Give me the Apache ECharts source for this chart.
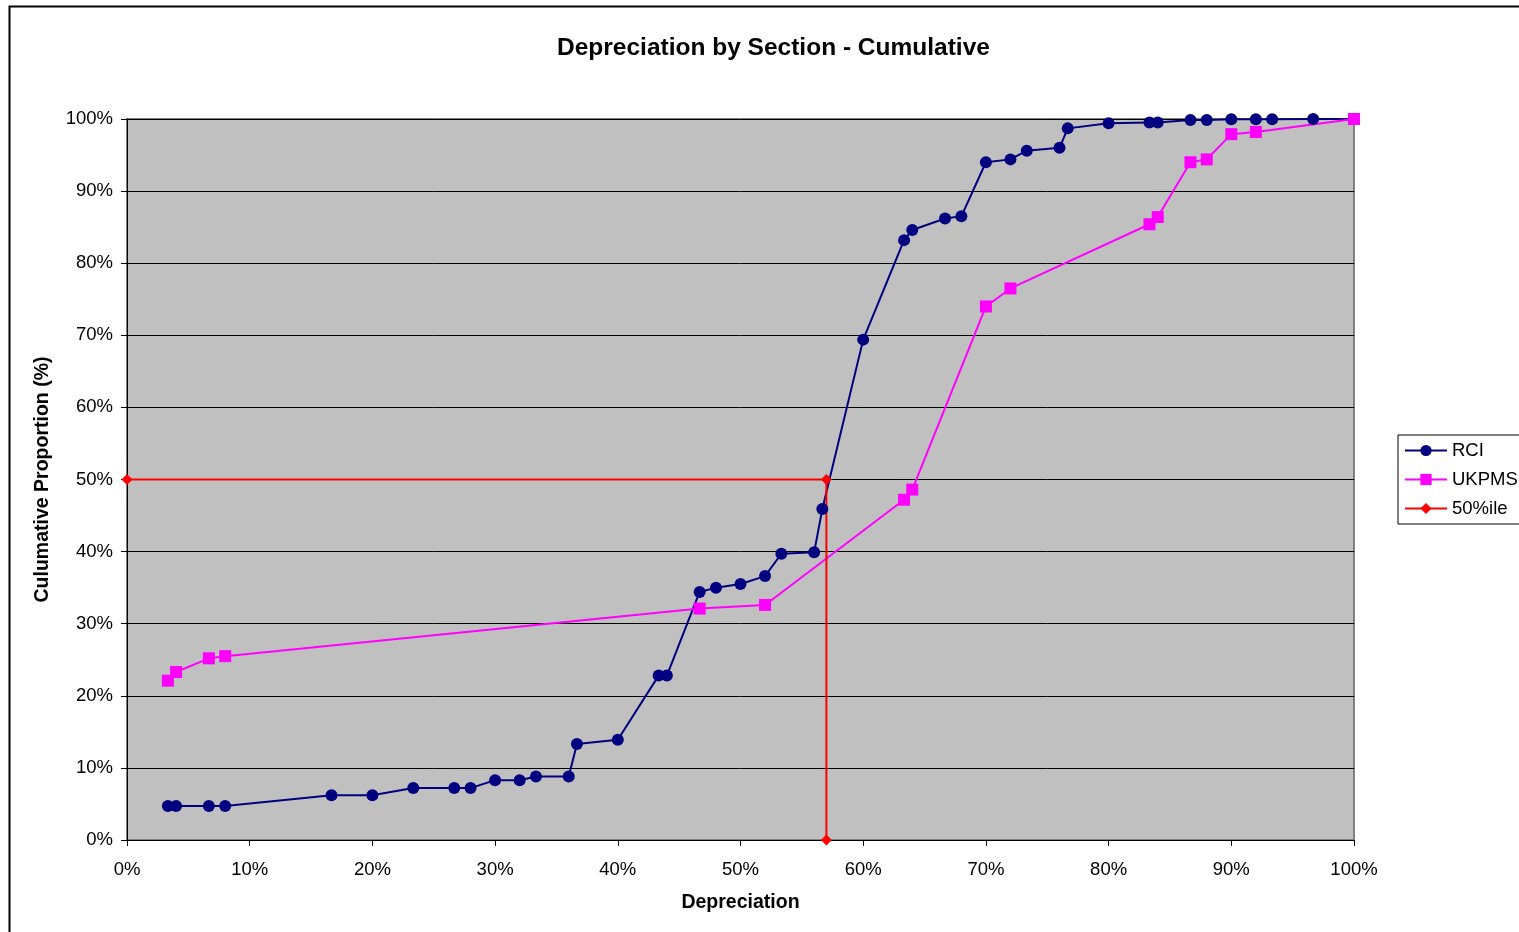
<!DOCTYPE html>
<html>
<head>
<meta charset="utf-8">
<title>Depreciation by Section - Cumulative</title>
<script src="https://cdn.jsdelivr.net/npm/echarts@6/dist/echarts.min.js"></script>
<style>
  html, body { margin: 0; padding: 0; background: #ffffff; overflow: hidden; }
  #chart { position: absolute; left: 0; top: 0; width: 1519px; height: 932px; }
</style>
</head>
<body>
<div id="chart"></div>
<script>
// Depreciation (%) for each section and the cumulative share of sections (%)
const rciDepreciation = [3.33, 4, 6.67, 8, 16.67, 20, 23.33, 26.67, 28, 30, 32, 33.33, 36, 36.67, 40,
  43.33, 44, 46.67, 48, 50, 52, 53.33, 56, 56.67, 60, 63.33, 64, 66.67, 68, 70, 72, 73.33, 76, 76.67,
  80, 83.33, 84, 86.67, 88, 90, 92, 93.33, 96.67, 100];
const rciCumulative = [4.7, 4.7, 4.7, 4.7, 6.2, 6.2, 7.2, 7.2, 7.2, 8.3, 8.3, 8.8, 8.8, 13.3, 13.9,
  22.8, 22.8, 34.4, 35.0, 35.5, 36.6, 39.7, 39.9, 45.9, 69.4, 83.2, 84.6, 86.2, 86.5, 94.0, 94.4, 95.6, 96.0, 98.7,
  99.4, 99.5, 99.5, 99.85, 99.85, 99.95, 99.95, 99.95, 100, 100];

const ukpmsDepreciation = [3.33, 4, 6.67, 8, 46.67, 52, 63.33, 64, 70, 72, 83.33, 84, 86.67, 88, 90, 92, 100];
const ukpmsCumulative = [22.1, 23.3, 25.2, 25.5, 32.1, 32.6, 47.2, 48.6, 74.0, 76.5, 85.4, 86.4, 94.0, 94.4, 97.9, 98.2, 100];

const medianDepreciation = [0, 57, 57];
const medianCumulative = [50, 50, 0];

const tickValues = [0, 10, 20, 30, 40, 50, 60, 70, 80, 90, 100];

const pairs = (xs, ys) => xs.map((x, i) => [x, ys[i]]);

const FONT = '"Liberation Sans", Arial, sans-serif';

const chart = echarts.init(document.getElementById('chart'), null, { renderer: 'canvas' });

const axisCommon = {
  type: 'value',
  min: tickValues[0],
  max: tickValues[tickValues.length - 1],
  interval: tickValues[1] - tickValues[0],
  axisLine: { show: true, lineStyle: { color: '#000', width: 1 } },
  axisTick: { show: true, inside: false, length: 6, lineStyle: { color: '#000' } },
  axisLabel: { formatter: '{value}%', color: '#000', fontFamily: FONT, fontSize: 18.5 },
  nameTextStyle: { color: '#000', fontFamily: FONT, fontSize: 19.5, fontWeight: 'bold' }
};

chart.setOption({
  animation: false,
  backgroundColor: '#ffffff',
  title: {
    text: 'Depreciation by Section - Cumulative',
    left: 552, top: 31,
    textStyle: { color: '#000', fontFamily: FONT, fontSize: 24.5, fontWeight: 'bold' }
  },
  graphic: [{
    type: 'rect', silent: true, z: 100,
    shape: { x: 9.5, y: 6.5, width: 1600, height: 1000 },
    style: { fill: 'none', stroke: '#000', lineWidth: 2 }
  }],
  grid: {
    left: 127, right: 165, top: 119, bottom: 92,
    show: true, backgroundColor: '#C0C0C0', borderColor: '#808080', borderWidth: 2
  },
  legend: {
    orient: 'vertical',
    left: 1398, top: 435,
    padding: [6, 40, 6, 6],
    borderColor: '#000', borderWidth: 1, backgroundColor: '#fff',
    itemWidth: 42, itemHeight: 14, itemGap: 10,
    textStyle: { color: '#000', fontFamily: FONT, fontSize: 18.5 },
    data: ['RCI', 'UKPMS', '50%ile']
  },
  xAxis: Object.assign({}, axisCommon, {
    name: 'Depreciation', nameLocation: 'middle', nameGap: 53,
    splitLine: { show: false },
    axisLabel: Object.assign({}, axisCommon.axisLabel, { margin: 20 })
  }),
  yAxis: Object.assign({}, axisCommon, {
    name: 'Culumative Proportion (%)', nameLocation: 'middle', nameGap: 74,
    splitLine: { show: true, lineStyle: { color: '#000', width: 1 } },
    axisLabel: Object.assign({}, axisCommon.axisLabel, { margin: 14 })
  }),
  series: [
    {
      name: 'RCI', type: 'line', data: pairs(rciDepreciation, rciCumulative),
      symbol: 'circle', symbolSize: 12,
      lineStyle: { color: '#000080', width: 2 },
      itemStyle: { color: '#000080' },
      emphasis: { disabled: true }
    },
    {
      name: 'UKPMS', type: 'line', data: pairs(ukpmsDepreciation, ukpmsCumulative),
      symbol: 'rect', symbolSize: 12,
      lineStyle: { color: '#FF00FF', width: 2 },
      itemStyle: { color: '#FF00FF' },
      emphasis: { disabled: true }
    },
    {
      name: '50%ile', type: 'line', data: pairs(medianDepreciation, medianCumulative),
      symbol: 'diamond', symbolSize: 11,
      lineStyle: { color: '#FF0000', width: 2 },
      itemStyle: { color: '#FF0000' },
      emphasis: { disabled: true }
    }
  ]
});
</script>
</body>
</html>
